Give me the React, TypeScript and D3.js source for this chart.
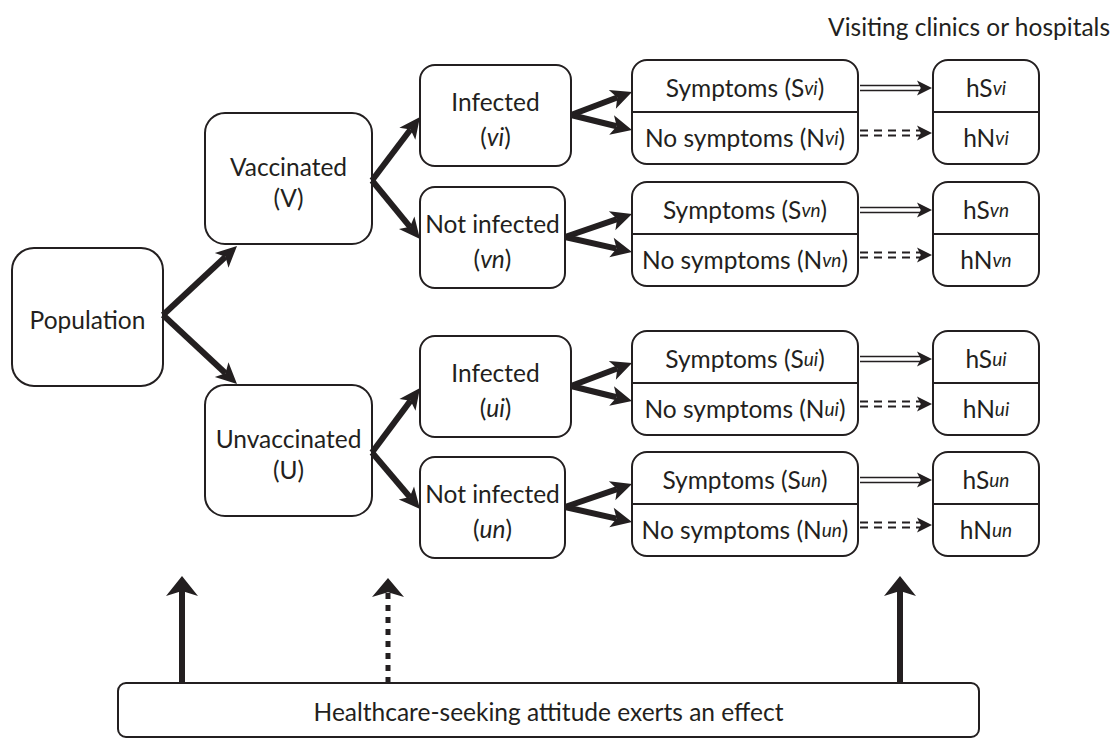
import React, { useEffect, useRef } from 'react';
import * as d3 from 'd3';

// labels
const groups = ['v', 'u'];
const groupLabels = ['Vaccinated', 'Unvaccinated'];
const groupCodes = ['V', 'U'];
const infLabels = ['Infected', 'Not infected'];
const infCodes = ['i', 'n'];
const topNote = 'Visiting clinics or hospitals';
const bottomNote = 'Healthcare-seeking attitude exerts an effect';
// effect arrows: which column they point at, and style
const effectTargets = ['group', 'infection', 'visit'];
const effectDashed = [false, true, false];

const W = 1116;
const H = 738;
const FONT = "Lato, 'Open Sans', sans-serif";
const FS = 24.5;
const SUB = 19;

// row tops of the symptom boxes (4 leaves)
const rowTops = [60, 182, 331, 452];
const rowH = 104;

type Pt = [number, number];

function App() {
  const ref = useRef<SVGSVGElement>(null);

  useEffect(() => {
    if (!ref.current) return;
    const svg = d3.select(ref.current);
    svg.selectAll('*').remove();
    const g = svg.append('g');

    const box = (x: number, y: number, w: number, h: number, r: number) =>
      g.append('rect')
        .attr('x', x).attr('y', y).attr('width', w).attr('height', h)
        .attr('rx', r).attr('ry', r)
        .attr('fill', '#fff').attr('stroke', '#231f20').attr('stroke-width', 2);

    const text = (x: number, y: number, anchor = 'middle') =>
      g.append('text')
        .attr('x', x).attr('y', y)
        .attr('text-anchor', anchor)
        .attr('dominant-baseline', 'central')
        .attr('font-family', FONT)
        .attr('font-size', FS)
        .attr('fill', '#231f20');

    // arrowhead polygon with notch
    const head = (tip: Pt, from: Pt, len: number, wid: number) => {
      const dx = tip[0] - from[0], dy = tip[1] - from[1];
      const d = Math.hypot(dx, dy);
      const ux = dx / d, uy = dy / d;
      const nx = -uy, ny = ux;
      const bx = tip[0] - ux * len, by = tip[1] - uy * len;
      const notch: Pt = [tip[0] - ux * len * 0.75, tip[1] - uy * len * 0.75];
      g.append('path')
        .attr('d', d3.line()([
          tip,
          [bx + nx * wid / 2, by + ny * wid / 2],
          notch,
          [bx - nx * wid / 2, by - ny * wid / 2],
        ]) + 'Z')
        .attr('fill', '#231f20');
      return notch;
    };

    const arrow = (from: Pt, tip: Pt, sw = 6, len = 21, wid = 20, dash?: string) => {
      const base = head(tip, from, len, wid);
      const l = g.append('line')
        .attr('x1', from[0]).attr('y1', from[1])
        .attr('x2', base[0]).attr('y2', base[1])
        .attr('stroke', '#231f20').attr('stroke-width', sw);
      if (dash) l.attr('stroke-dasharray', dash);
    };

    const coded = (x: number, y: number, pre: string, code: string, post = '') => {
      const t = text(x, y);
      t.append('tspan').text(pre);
      t.append('tspan').attr('font-style', 'italic').attr('font-size', SUB).text(code);
      if (post) t.append('tspan').text(post);
      return t;
    };

    // Population
    const pop = { x: 12, y: 248, w: 151, h: 138 };
    box(pop.x, pop.y, pop.w, pop.h, 22);
    text(pop.x + pop.w / 2, pop.y + pop.h / 2 + 2).text('Population');

    const grp = { x: 205, w: 167, h: 131 };
    const grpTops = [113, 385];
    const inf = { x: 420, h: 101 };
    const infW = [151, 145];
    const sym = { x: 632, w: 226 };
    const hb = { x: 933, w: 106 };

    const popOut: Pt = [pop.x + pop.w, pop.y + pop.h / 2 - 2];

    groups.forEach((gk, gi) => {
      const gy = grpTops[gi];
      box(grp.x, gy, grp.w, grp.h, 20);
      text(grp.x + grp.w / 2, gy + 53).text(groupLabels[gi]);
      text(grp.x + grp.w / 2, gy + 84).text(`(${groupCodes[gi]})`);
      // population arrow
      arrow(popOut, gi === 0 ? [237, gy + grp.h + 2] : [237, gy - 1]);
      const gOut: Pt = [grp.x + grp.w, gy + grp.h / 2 + 2];

      infCodes.forEach((ik, ii) => {
        const ri = gi * 2 + ii;
        const ry = rowTops[ri];
        const code = gk + ik;
        const iy = ry + 5;
        const iw = infW[ii];
        box(inf.x, iy, iw, inf.h, 15);
        text(inf.x + iw / 2, iy + inf.h / 2 - 14).text(infLabels[ii]);
        const t2 = text(inf.x + iw / 2, iy + inf.h / 2 + 20);
        t2.append('tspan').text('(');
        t2.append('tspan').attr('font-style', 'italic').text(code);
        t2.append('tspan').text(')');
        arrow(gOut, [inf.x, iy + 52]);

        // symptom box
        const mid = ry + rowH / 2;
        box(sym.x, ry, sym.w, rowH, 15);
        g.append('line')
          .attr('x1', sym.x).attr('x2', sym.x + sym.w)
          .attr('y1', mid).attr('y2', mid)
          .attr('stroke', '#231f20').attr('stroke-width', 2);
        coded(sym.x + sym.w / 2, ry + 27, 'Symptoms (S', code, ')');
        coded(sym.x + sym.w / 2, mid + 25, 'No symptoms (N', code, ')');
        const iOut: Pt = [inf.x + iw, iy + 50];
        arrow(iOut, [sym.x, ry + 32]);
        arrow(iOut, [sym.x, mid + 18]);

        // hospital box
        box(hb.x, ry, hb.w, rowH, 15);
        g.append('line')
          .attr('x1', hb.x).attr('x2', hb.x + hb.w)
          .attr('y1', mid).attr('y2', mid)
          .attr('stroke', '#231f20').attr('stroke-width', 2);
        coded(hb.x + hb.w / 2, ry + 27, 'hS', code);
        coded(hb.x + hb.w / 2, mid + 25, 'hN', code);

        // double-line arrow (symptoms)
        const ya = ry + 28;
        const hx = hb.x - 1;
        head([hx, ya], [sym.x + sym.w, ya], 15, 15);
        [-2.5, 2.5].forEach(off => {
          g.append('line')
            .attr('x1', sym.x + sym.w + 2).attr('x2', hx - 11)
            .attr('y1', ya + off).attr('y2', ya + off)
            .attr('stroke', '#231f20').attr('stroke-width', 1.6);
        });
        // double dashed arrow (no symptoms)
        const yb = mid + 21;
        head([hx, yb], [sym.x + sym.w, yb], 15, 15);
        [-2.5, 2.5].forEach(off => {
          g.append('line')
            .attr('x1', sym.x + sym.w + 2).attr('x2', hx - 11)
            .attr('y1', yb + off).attr('y2', yb + off)
            .attr('stroke', '#231f20').attr('stroke-width', 2)
            .attr('stroke-dasharray', '8,6');
        });
      });
    });

    // top note
    text(1110, 26, 'end').text(topNote);

    // bottom box
    const bb = { x: 118, y: 683, w: 861, h: 54 };
    box(bb.x, bb.y, bb.w, bb.h, 8);
    text(bb.x + bb.w / 2, bb.y + bb.h / 2 + 1).text(bottomNote);

    const effX: Record<string, number> = { group: 182, infection: 388, visit: 900 };
    effectTargets.forEach((k, i) => {
      const x = effX[k];
      if (effectDashed[i]) {
        arrow([x, bb.y], [x, 578], 5, 19, 32, '6,6');
      } else {
        arrow([x, bb.y], [x, 576], 6, 20, 32);
      }
    });
  }, []);

  return <svg ref={ref} width={W} height={H} style={{ display: 'block', position: 'absolute', left: 0, top: 0 }} />;
}

export default App;
